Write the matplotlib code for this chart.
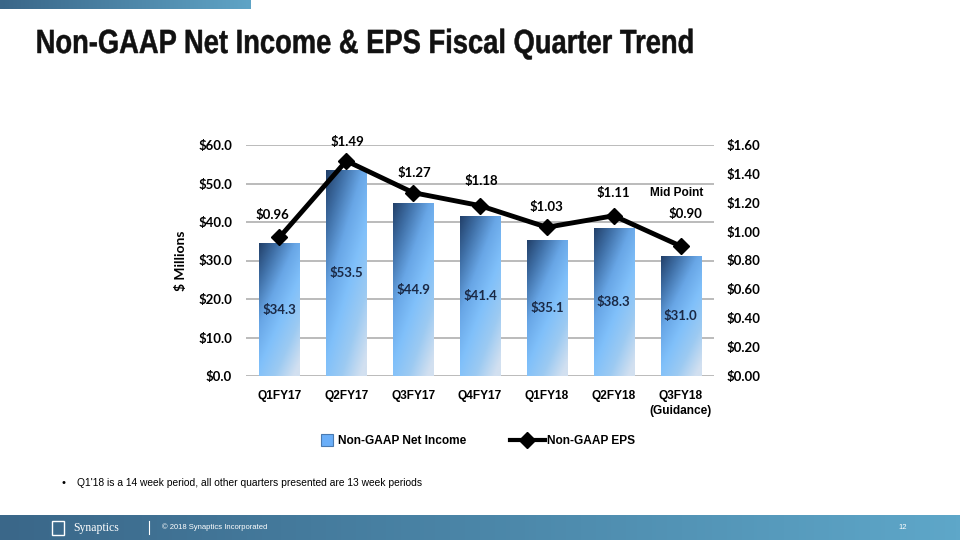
import numpy as np
import matplotlib
matplotlib.use('Agg')
import matplotlib.pyplot as plt
from matplotlib.colors import LinearSegmentedColormap
from matplotlib.patches import Rectangle, PathPatch
from matplotlib.lines import Line2D
from matplotlib.textpath import TextPath
from matplotlib.font_manager import FontProperties
from matplotlib.transforms import Affine2D

# ---------------------------------------------------------------
# Dados
# ---------------------------------------------------------------
quarters = ['Q1FY17', 'Q2FY17', 'Q3FY17', 'Q4FY17', 'Q1FY18', 'Q2FY18', 'Q3FY18']
net_income = [34.3, 53.5, 44.9, 41.4, 35.1, 38.3, 31.0]
eps = [0.96, 1.49, 1.27, 1.18, 1.03, 1.11, 0.90]
left_ticks = [0, 10, 20, 30, 40, 50, 60]
right_ticks = [0.0, 0.2, 0.4, 0.6, 0.8, 1.0, 1.2, 1.4, 1.6]
title = 'Non-GAAP Net Income & EPS Fiscal Quarter Trend'

lab_font = 'Lato'
arial = 'Liberation Sans'
afs = 8.6   # tamanho dos textos em Arial
leg_prop = {'family': arial, 'weight': 'bold', 'size': afs}

fig = plt.figure(figsize=(9.6, 5.4), dpi=100)

# ---------------------------------------------------------------
# Camada de fundo em pixels (titulo condensado, nota, rodape)
# ---------------------------------------------------------------
bg = fig.add_axes([0, 0, 1, 1], zorder=-1)
bg.set_xlim(0, 960)
bg.set_ylim(0, 540)
bg.axis('off')

# titulo: Arial bold comprimida horizontalmente (estilo Arial Narrow)
tp = TextPath((0, 0), title, size=1, prop=FontProperties(family=arial, weight='bold'))
ext = tp.get_extents()
sx = 655 / ext.width
sy = 24 / 0.716
tr = Affine2D().translate(-ext.x0, 0).scale(sx, sy).translate(37.5, 540 - 53)
bg.add_patch(PathPatch(tr.transform_path(tp), facecolor='#111111', edgecolor='#111111', lw=0.35))

bg.text(62, 540 - 483, '•', fontsize=8, family=arial, va='center')
bg.text(77, 540 - 483, "Q1'18 is a 14 week period, all other quarters presented are 13 week periods",
        fontsize=7.4, family=arial, va='center')

hgrad = np.linspace(0, 1, 256).reshape(1, -1)
top_cmap = LinearSegmentedColormap.from_list('top', ['#3a6688', '#5fa4c6'])
ax_top = fig.add_axes([0, 1 - 9 / 540, 250 / 960, 9 / 540])
ax_top.imshow(hgrad, aspect='auto', cmap=top_cmap)
ax_top.axis('off')

foot_cmap = LinearSegmentedColormap.from_list('foot', ['#3a6789', '#4b86a8', '#5ea7c9'])
ax_foot = fig.add_axes([0, 0, 1, 25 / 540])
ax_foot.imshow(hgrad, aspect='auto', cmap=foot_cmap, extent=[0, 960, 0, 25])
ax_foot.set_xlim(0, 960)
ax_foot.set_ylim(0, 25)
ax_foot.axis('off')
ax_foot.add_patch(Rectangle((52, 5), 12, 14, facecolor='none', edgecolor='white', lw=1))
ax_foot.text(73, 12.5, 'Synaptics', color='white', fontsize=8.5, family='Liberation Serif', va='center')
ax_foot.plot([149, 149], [6, 19], color='white', lw=0.8)
ax_foot.text(162, 12.5, '© 2018 Synaptics Incorporated', color='white', fontsize=5.5,
             family=arial, va='center')
ax_foot.text(903, 12.5, '12', color='white', fontsize=5.5, family=arial, va='center', ha='center')

# ---------------------------------------------------------------
# Grafico principal
# ---------------------------------------------------------------
ax = fig.add_axes([246 / 960, 1 - 376 / 540, 468 / 960, 231 / 540])
x = np.arange(len(quarters))
bars = ax.bar(x, net_income, width=0.6, color='none', zorder=2)

bar_cmap = LinearSegmentedColormap.from_list('bar', ['#1f3b63', '#3f6fa6', '#68a6e6', '#80c0fa',
                                                      '#9ccaf2', '#d2e0f0'])
ny, nx = 200, 60
uu, vv = np.meshgrid(np.linspace(0, 1, nx), np.linspace(0, 1, ny))  # vv = 0 na base
tgrad = np.clip(0.42 * uu + 0.62 * (1 - vv) + 0.02, 0, 1)
for b in bars:
    h = b.get_height()
    ax.imshow(tgrad, cmap=bar_cmap, aspect='auto', extent=[b.get_x(), b.get_x() + b.get_width(), 0, h],
              origin='lower', zorder=2, vmin=0, vmax=1)
    ax.text(b.get_x() + b.get_width() / 2, h / 2, '$%.1f' % h, ha='center', va='center',
            fontsize=9.5, fontweight='bold', family=lab_font, color='#1a2945', zorder=4)

ax.set_xlim(-0.5, len(quarters) - 0.5)
ax.set_ylim(0, 60)
ax.set_yticks(left_ticks)
ax.set_yticklabels(['$%.1f' % v for v in left_ticks], fontsize=9.5, fontweight='bold', family=lab_font)
ax.yaxis.grid(True, color='#a8a8a8', lw=1.1, zorder=0)
ax.set_axisbelow(True)
for s in ax.spines.values():
    s.set_visible(False)
ax.tick_params(axis='y', length=0, pad=10)
ax.set_xticks(x)
ax.set_xticklabels(quarters, fontsize=afs, fontweight='bold', family=arial)
ax.tick_params(axis='x', length=0, pad=10)
ax.set_ylabel('$ Millions', fontsize=10, fontweight='bold', family=lab_font, labelpad=8)
ax.text(x[-1], -0.152, '(Guidance)', transform=ax.get_xaxis_transform(), ha='center', va='center',
        fontsize=afs, fontweight='bold', family=arial)

ax2 = ax.twinx()
ax2.set_ylim(0, 1.6)
ax2.set_yticks(right_ticks)
ax2.set_yticklabels(['$%.2f' % v for v in right_ticks], fontsize=9.5, fontweight='bold', family=lab_font)
for s in ax2.spines.values():
    s.set_visible(False)
ax2.tick_params(axis='y', length=0, pad=9)
ax2.plot(x, eps, color='black', lw=3.5, marker='D', markersize=8, zorder=5)

offs = [(-7, 22), (1, 19), (1, 20), (1, 25), (0, 20), (0, 23), (5, 32)]
for xi, v, (dx, dy) in zip(x, eps, offs):
    ax2.annotate('$%.2f' % v, (xi, v), xytext=(dx, dy), textcoords='offset pixels', ha='center',
                 va='center', fontsize=9.5, fontweight='bold', family=lab_font)
ax2.annotate('Mid Point', (x[-1], eps[-1]), xytext=(-4, 53), textcoords='offset pixels', ha='center',
             va='center', fontsize=afs, fontweight='bold', family=arial)

# ---------------------------------------------------------------
# Legenda (duas partes, posicionadas separadamente)
# ---------------------------------------------------------------
h_income = Line2D([], [], linestyle='none', marker='s', markersize=9, markerfacecolor='#6aaef8',
                  markeredgecolor='#4a7ab0', markeredgewidth=0.8)
h_eps = Line2D([], [], color='black', lw=3, marker='D', markersize=8)
leg1 = fig.legend([h_income], ['Non-GAAP Net Income'], loc='center left',
                  bbox_to_anchor=(321 / 960, 1 - 441 / 540), frameon=False, borderpad=0,
                  borderaxespad=0, handlelength=1.0, handletextpad=0.4, prop=leg_prop)
fig.legend([h_eps], ['Non-GAAP EPS'], loc='center left',
           bbox_to_anchor=(510 / 960, 1 - 441 / 540), frameon=False, borderpad=0,
           borderaxespad=0, handlelength=2.9, handletextpad=0.2, prop=leg_prop)

fig.savefig('out.png', dpi=100)
